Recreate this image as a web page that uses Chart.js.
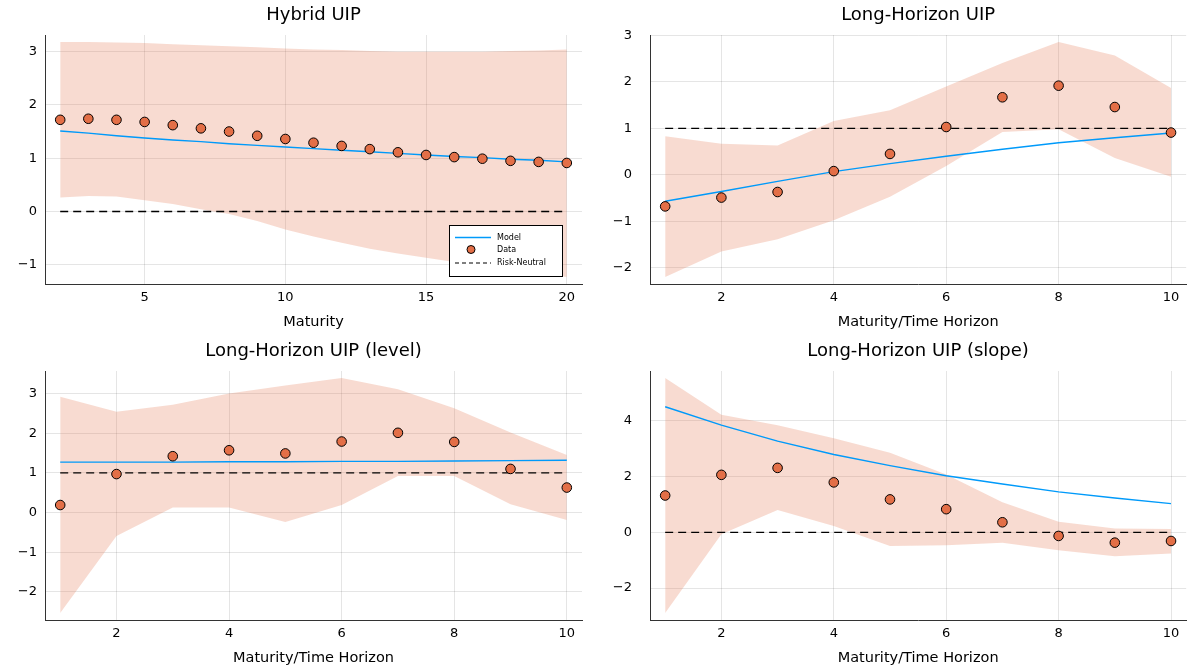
<!DOCTYPE html>
<html>
<head>
<meta charset="utf-8">
<script src="https://cdn.jsdelivr.net/npm/chart.js@4.4.1/dist/chart.umd.min.js"></script>
<style>
body { margin: 0; background: #fff; width: 1192px; height: 672px; position: relative; overflow: hidden; }
.panel { position: absolute; width: 596px; height: 336px; }
</style>
</head>
<body>
<div class="panel" style="left:0;top:0"><canvas id="hybrid"></canvas></div>
<div class="panel" style="left:596px;top:0"><canvas id="longHorizon"></canvas></div>
<div class="panel" style="left:0;top:336px"><canvas id="level"></canvas></div>
<div class="panel" style="left:596px;top:336px"><canvas id="slope"></canvas></div>
<script>
// Hybrid UIP
const hybridX = [2, 3, 4, 5, 6, 7, 8, 9, 10, 11, 12, 13, 14, 15, 16, 17, 18, 19, 20];
const hybridModel = [1.51, 1.47, 1.42, 1.38, 1.34, 1.31, 1.27, 1.24, 1.21, 1.18, 1.15, 1.12, 1.09, 1.06, 1.03, 1.01, 0.98, 0.96, 0.93];
const hybridData = [1.72, 1.74, 1.72, 1.68, 1.62, 1.56, 1.50, 1.42, 1.36, 1.29, 1.23, 1.17, 1.11, 1.06, 1.02, 0.99, 0.95, 0.93, 0.91];
const hybridUpper = [3.18, 3.18, 3.17, 3.16, 3.14, 3.12, 3.10, 3.08, 3.06, 3.04, 3.03, 3.01, 3.00, 3.00, 3.00, 3.00, 3.01, 3.02, 3.04];
const hybridLower = [0.26, 0.29, 0.28, 0.21, 0.14, 0.04, -0.05, -0.18, -0.34, -0.47, -0.59, -0.70, -0.79, -0.87, -0.95, -1.02, -1.08, -1.15, -1.23];
const hybridXTicks = [5, 10, 15, 20];
const hybridYTicks = [-1, 0, 1, 2, 3];

// horizons 1..10 shared by the other three panels
const horizons = [1, 2, 3, 4, 5, 6, 7, 8, 9, 10];
const horizonTicks = [2, 4, 6, 8, 10];

// Long-Horizon UIP
const lhModel = [-0.57, -0.36, -0.14, 0.07, 0.24, 0.40, 0.55, 0.69, 0.80, 0.90];
const lhData = [-0.68, -0.49, -0.37, 0.08, 0.45, 1.03, 1.67, 1.92, 1.46, 0.91];
const lhUpper = [0.83, 0.67, 0.63, 1.16, 1.39, 1.90, 2.41, 2.86, 2.57, 1.87];
const lhLower = [-2.20, -1.65, -1.39, -0.98, -0.47, 0.19, 0.92, 0.98, 0.36, -0.04];
const lhYTicks = [-2, -1, 0, 1, 2, 3];

// Long-Horizon UIP (level)
const levelModel = [1.27, 1.27, 1.27, 1.28, 1.28, 1.29, 1.29, 1.30, 1.31, 1.32];
const levelData = [0.19, 0.97, 1.42, 1.57, 1.49, 1.79, 2.01, 1.78, 1.10, 0.63];
const levelUpper = [2.92, 2.54, 2.72, 3.00, 3.20, 3.39, 3.11, 2.63, 2.02, 1.45];
const levelLower = [-2.53, -0.59, 0.13, 0.13, -0.24, 0.19, 0.92, 0.92, 0.21, -0.19];
const levelYTicks = [-2, -1, 0, 1, 2, 3];

// Long-Horizon UIP (slope)
const slopeModel = [4.50, 3.84, 3.27, 2.79, 2.39, 2.03, 1.73, 1.45, 1.23, 1.03];
const slopeData = [1.32, 2.06, 2.31, 1.79, 1.18, 0.83, 0.36, -0.13, -0.37, -0.31];
const slopeUpper = [5.53, 4.21, 3.84, 3.37, 2.85, 2.07, 1.08, 0.38, 0.14, 0.12];
const slopeLower = [-2.89, -0.07, 0.80, 0.23, -0.49, -0.46, -0.37, -0.64, -0.86, -0.76];
const slopeYTicks = [-2, 0, 2, 4];

const BLUE = '#009AFA';
const ORANGE = '#E36F47';
const BAND = 'rgba(227, 111, 71, 0.25)';
const FONT = 'DejaVu Sans';

// title centred over the plot area, like Plots does
const plotTitle = {
    id: 'plotTitle',
    afterDraw(chart, args, opts) {
        const ctx = chart.ctx;
        const a = chart.chartArea;
        ctx.save();
        ctx.font = '18px ' + FONT;
        ctx.fillStyle = '#000';
        ctx.textAlign = 'center';
        ctx.textBaseline = 'middle';
        ctx.fillText(opts.text, (a.left + a.right) / 2, 15);
        ctx.restore();
    }
};

// white legend box in the lower right corner (first panel only)
const legendBox = {
    id: 'legendBox',
    afterDraw(chart, args, opts) {
        if (!opts.show) return;
        const ctx = chart.ctx;
        const a = chart.chartArea;
        const w = 113, h = 51;
        const left = a.right - 20 - w, top = a.bottom - 8 - h;
        ctx.save();
        ctx.fillStyle = '#fff';
        ctx.fillRect(left, top, w, h);
        ctx.strokeStyle = '#000';
        ctx.lineWidth = 1;
        ctx.strokeRect(left + 0.5, top + 0.5, w, h);
        ctx.font = '8px ' + FONT;
        ctx.textBaseline = 'middle';
        const rows = [12.5, 24.5, 38];
        // Model
        ctx.strokeStyle = BLUE;
        ctx.lineWidth = 1.4;
        ctx.beginPath(); ctx.moveTo(left + 6, top + rows[0]); ctx.lineTo(left + 42, top + rows[0]); ctx.stroke();
        // Data
        ctx.fillStyle = ORANGE;
        ctx.strokeStyle = '#000';
        ctx.lineWidth = 1;
        ctx.beginPath(); ctx.arc(left + 22, top + rows[1], 4, 0, Math.PI * 2); ctx.fill(); ctx.stroke();
        // Risk-Neutral
        ctx.setLineDash([4, 3]);
        ctx.lineWidth = 1.2;
        ctx.beginPath(); ctx.moveTo(left + 6, top + rows[2]); ctx.lineTo(left + 42, top + rows[2]); ctx.stroke();
        ctx.setLineDash([]);
        ctx.fillStyle = '#000';
        ['Model', 'Data', 'Risk-Neutral'].forEach((n, i) => ctx.fillText(n, left + 48, top + rows[i]));
        ctx.restore();
    }
};

const minus = v => String(v).replace('-', '\u2212');

function makeChart(id, o) {
    const pts = ys => o.x.map((x, i) => ({ x: x, y: ys[i] }));
    const pad = (lo, hi) => 0.03 * (hi - lo);
    const xlo = o.x[0], xhi = o.x[o.x.length - 1];
    const ylo = Math.min(...o.lower, ...o.data, ...o.model), yhi = Math.max(...o.upper, ...o.data, ...o.model);
    return new Chart(document.getElementById(id), {
        type: 'line',
        data: {
            datasets: [
                { label: 'Data', data: pts(o.data), showLine: false, pointRadius: 4.8, pointHoverRadius: 4.8,
                  pointBackgroundColor: ORANGE, pointBorderColor: '#000', pointBorderWidth: 1, order: 0 },
                { label: 'Model', data: pts(o.model), borderColor: BLUE, borderWidth: 1.4, pointRadius: 0,
                  tension: 0, order: 1 },
                { label: 'Risk-Neutral', data: [{ x: xlo, y: o.rn }, { x: xhi, y: o.rn }], borderColor: '#000',
                  borderDash: [8, 5], borderWidth: 1.4, pointRadius: 0, order: 2 },
                { label: 'upper', data: pts(o.upper), borderWidth: 0, borderColor: 'rgba(0,0,0,0)', pointRadius: 0,
                  fill: '+1', backgroundColor: BAND, order: 3 },
                { label: 'lower', data: pts(o.lower), borderWidth: 0, borderColor: 'rgba(0,0,0,0)', pointRadius: 0,
                  fill: false, order: 4 }
            ]
        },
        options: {
            responsive: true,
            maintainAspectRatio: false,
            animation: false,
            layout: { padding: { left: 0, right: o.padRight, top: 35, bottom: 0 } },
            plugins: {
                legend: { display: false },
                tooltip: { enabled: false },
                title: { display: false },
                plotTitle: { text: o.title },
                legendBox: { show: !!o.legend }
            },
            scales: {
                x: {
                    type: 'linear',
                    min: xlo - pad(xlo, xhi),
                    max: xhi + pad(xlo, xhi),
                    afterBuildTicks: s => { s.ticks = o.xTicks.map(v => ({ value: v })); },
                    afterFit: s => { s.height = 52; },
                    grid: { color: 'rgba(0,0,0,0.1)', drawTicks: false },
                    border: { color: '#333', width: 1 },
                    ticks: { color: '#000', padding: 6, maxRotation: 0, autoSkip: false,
                             font: { family: FONT, size: 13 }, callback: v => minus(v) },
                    title: { display: true, text: o.xLabel, color: '#000',
                             font: { family: FONT, size: 14.5 }, padding: { top: 0, bottom: 5 } }
                },
                y: {
                    type: 'linear',
                    min: ylo - pad(ylo, yhi),
                    max: yhi + pad(ylo, yhi),
                    afterBuildTicks: s => { s.ticks = o.yTicks.map(v => ({ value: v })); },
                    afterFit: s => { s.width = o.yWidth; },
                    grid: { color: 'rgba(0,0,0,0.1)', drawTicks: false },
                    border: { color: '#333', width: 1 },
                    ticks: { color: '#000', padding: o.yPad, font: { family: FONT, size: 13 }, callback: v => minus(v) }
                }
            }
        },
        plugins: [plotTitle, legendBox]
    });
}

makeChart('hybrid', { title: 'Hybrid UIP', xLabel: 'Maturity', x: hybridX, model: hybridModel, data: hybridData,
    upper: hybridUpper, lower: hybridLower, rn: 0, xTicks: hybridXTicks, yTicks: hybridYTicks,
    yWidth: 45, yPad: 8, padRight: 14, legend: true });
makeChart('longHorizon', { title: 'Long-Horizon UIP', xLabel: 'Maturity/Time Horizon', x: horizons, model: lhModel,
    data: lhData, upper: lhUpper, lower: lhLower, rn: 1, xTicks: horizonTicks, yTicks: lhYTicks,
    yWidth: 54, yPad: 18, padRight: 4 });
makeChart('level', { title: 'Long-Horizon UIP (level)', xLabel: 'Maturity/Time Horizon', x: horizons, model: levelModel,
    data: levelData, upper: levelUpper, lower: levelLower, rn: 1, xTicks: horizonTicks, yTicks: levelYTicks,
    yWidth: 45, yPad: 8, padRight: 14 });
makeChart('slope', { title: 'Long-Horizon UIP (slope)', xLabel: 'Maturity/Time Horizon', x: horizons, model: slopeModel,
    data: slopeData, upper: slopeUpper, lower: slopeLower, rn: 0, xTicks: horizonTicks, yTicks: slopeYTicks,
    yWidth: 54, yPad: 18, padRight: 4 });
</script>
</body>
</html>
